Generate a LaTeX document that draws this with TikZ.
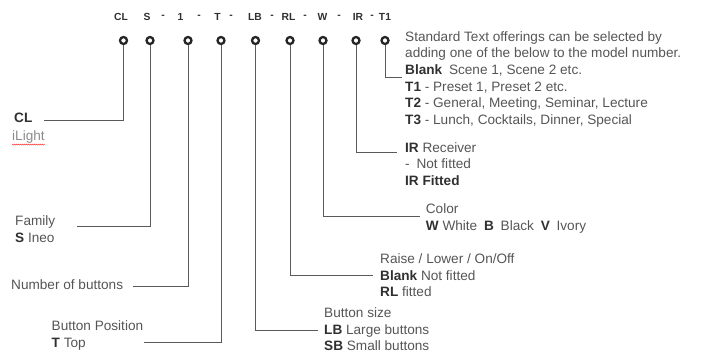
\documentclass[tikz,border=0pt]{standalone}
\usepackage{fontspec}
\setmainfont{Liberation Sans}
\usepackage{tikz}
\usetikzlibrary{positioning, calc, decorations.pathmorphing}

\definecolor{inkgrey}{HTML}{555555}
\definecolor{codegrey}{HTML}{303030}
\definecolor{leadgrey}{HTML}{5A5A5A}

\begin{document}
\begin{tikzpicture}[x=1pt, y=-1pt,
    pin/.style={circle, draw=black!85, line width=2.3pt, minimum size=7pt, inner sep=0pt},
    code/.style={font=\fontsize{10.3}{11}\selectfont\bfseries, text=codegrey, inner sep=0pt},
    lead/.style={draw=leadgrey, line width=0.9pt},
    txt/.style={font=\fontsize{13.6}{16.6}\selectfont, text=inkgrey, align=left, inner sep=0pt, anchor=north west}]
    \useasboundingbox (0,0) rectangle (703,354);

    % Model code
    \node[code] (ccl) at (121,16.5) {CL};
    \node[code] (cs) at (147,16.5) {S};
    \node[code] at (163,16.5) {-};
    \node[code] (cone) at (180.5,16.5) {1};
    \node[code] at (199,16.5) {-};
    \node[code] (ct) at (217.5,16.5) {T};
    \node[code] at (231,16.5) {-};
    \node[code] (clb) at (255,16.5) {LB};
    \node[code] at (272,16.5) {-};
    \node[code] (crl) at (288.5,16.5) {RL};
    \node[code] at (305,16.5) {-};
    \node[code] (cw) at (322.5,16.5) {W};
    \node[code] at (339,16.5) {-};
    \node[code] (cir) at (358,16.5) {IR};
    \node[code] at (372,16.5) {-};
    \node[code] (ctone) at (385,16.5) {T1};

    % Pins
    \node[pin] (pcl) at (123.5,40.5) {};
    \node[pin] (ps) at (150,40.5) {};
    \node[pin] (pone) at (188,40.5) {};
    \node[pin] (pt) at (221,40.5) {};
    \node[pin] (plb) at (255.5,40.5) {};
    \node[pin] (prl) at (290,40.5) {};
    \node[pin] (pw) at (323,40.5) {};
    \node[pin] (pir) at (356,40.5) {};
    \node[pin] (ptone) at (385,40.5) {};

    % Left descriptions
    \node[txt, text=codegrey] (tcl) at (14,113) {\textbf{CL}};
    \node[txt, text=black!45] (tilight) at (12,130) {iLight};
    \draw[red!75, line width=0.5pt, decorate, decoration={snake, amplitude=0.5pt, segment length=2pt}]
        ([yshift=-1.5pt]tilight.south west) -- ([yshift=-1.5pt]tilight.south east);
    \node[txt] (tfam) at (15,215.5) {Family\\\textcolor{codegrey}{\textbf{S}} Ineo};
    \node[txt] (tnum) at (11,279.5) {Number of buttons};
    \node[txt] (tpos) at (51.5,320.5) {Button Position\\\textcolor{codegrey}{\textbf{T}} Top};

    % Right descriptions
    \node[txt] (tsize) at (324,307.5) {Button size\\
        \textcolor{codegrey}{\textbf{LB}} Large buttons\\
        \textcolor{codegrey}{\textbf{SB}} Small buttons};
    \node[txt] (traise) at (380,253.5) {Raise / Lower / On/Off\\
        \textcolor{codegrey}{\textbf{Blank}} Not fitted\\
        \textcolor{codegrey}{\textbf{RL}} fitted};
    \node[txt] (tcol) at (425.7,203.5) {Color\\
        \textcolor{codegrey}{\textbf{W}} White\enspace
        \textcolor{codegrey}{\textbf{B}}\enspace Black\enspace
        \textcolor{codegrey}{\textbf{V}}\enspace Ivory};
    \node[txt] (tir) at (405,142.2) {\textcolor{codegrey}{\textbf{IR}} Receiver\\
        -\enspace Not fitted\\
        \textcolor{codegrey}{\textbf{IR Fitted}}};
    \node[txt] (ttext) at (405,31.2) {Standard Text offerings can be selected by\\
        adding one of the below to the model number.\\
        \textcolor{codegrey}{\textbf{Blank}}\enspace Scene 1, Scene 2 etc.\\
        \textcolor{codegrey}{\textbf{T1}} - Preset 1, Preset 2 etc.\\
        \textcolor{codegrey}{\textbf{T2}} - General, Meeting, Seminar, Lecture\\
        \textcolor{codegrey}{\textbf{T3}} - Lunch, Cocktails, Dinner, Special};

    % Lead ends
    \coordinate (ecl) at (44,120);
    \coordinate (efam) at (76.7,226.5);
    \coordinate (enum) at (132.7,286);
    \coordinate (epos) at (144,342.5);
    \coordinate (esize) at (318,330);
    \coordinate (eraise) at (373,275);
    \coordinate (ecol) at (420,216.7);
    \coordinate (eir) at (397,152.3);
    \coordinate (etext) at (401.5,77);

    % Leads
    \draw[lead] (pcl) |- (ecl);
    \draw[lead] (ps) |- (efam);
    \draw[lead] (pone) |- (enum);
    \draw[lead] (pt) |- (epos);
    \draw[lead] (plb) |- (esize);
    \draw[lead] (prl) |- (eraise);
    \draw[lead] (pw) |- (ecol);
    \draw[lead] (pir) |- (eir);
    \draw[lead] (ptone) |- (etext);
\end{tikzpicture}
\end{document}
